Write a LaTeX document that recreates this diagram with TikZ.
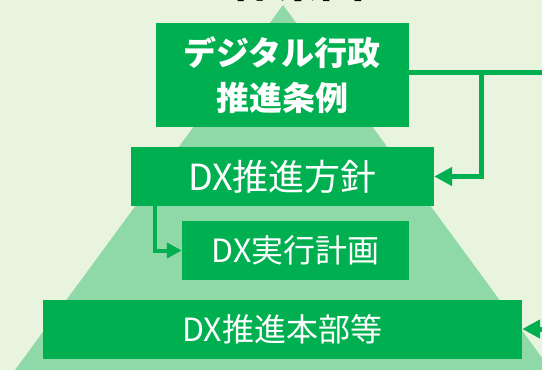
\documentclass[tikz,border=0pt]{standalone}
\usepackage{fontspec}
\setmainfont{Noto Sans CJK JP}
\usetikzlibrary{arrows.meta}
\definecolor{bgc}{HTML}{E8F4DD}
\definecolor{tri}{HTML}{8FD9A8}
\definecolor{gbox}{HTML}{00AF50}
\tikzset{
  gbox/.style={fill=gbox, draw=none, text=white, inner sep=0pt, align=center},
  conn/.style={draw=gbox, line width=5pt},
  conn2/.style={draw=gbox, line width=4pt},
  bigtip/.style={-{Triangle[length=18pt,width=18pt]}},
  smalltip/.style={-{Triangle[length=15pt,width=15pt]}},
}
\begin{document}
\begin{tikzpicture}[x=1pt,y=1pt]
\useasboundingbox (0,0) rectangle (542,-370);
\fill[bgc] (0,0) rectangle (542,-370);
% pyramid
\fill[tri] (283,-5) -- (551,-370) -- (15,-370) -- cycle;
% cut-off title
\node[anchor=base, font=\bfseries\fontsize{44}{44}\selectfont, inner sep=0pt] (title) at (277,3) {の体系図};
% boxes
\node[gbox, minimum width=253.5pt, minimum height=104.5pt, font=\bfseries\fontsize{33}{45}\selectfont] (jorei) at (282.25,-74.75) {デジタル行政\\推進条例};
\node[gbox, minimum width=303pt, minimum height=59pt, font=\fontsize{36}{36}\selectfont] (hoshin) at (282.5,-176.5) {DX推進方針};
\node[gbox, minimum width=227pt, minimum height=59pt, font=\fontsize{32}{32}\selectfont] (keikaku) at (295.5,-250.5) {DX実行計画};
\node[gbox, minimum width=479.5pt, minimum height=59pt, font=\fontsize{32}{32}\selectfont] (honbu) at (282.25,-329.5) {DX推進本部等};
% connectors
\coordinate (r1) at (545,-72);
\coordinate (j1) at (481.5,-72);
\coordinate (r2) at (545,-329);
\draw[conn] (jorei.east |- r1) -- (r1);
\draw[conn, bigtip] (j1) |- (hoshin.east);
\draw[conn2, smalltip] (hoshin.south -| 155,0) |- (keikaku.west);
\draw[conn, bigtip] (r2) -- (honbu.east |- r2);
\end{tikzpicture}
\end{document}
